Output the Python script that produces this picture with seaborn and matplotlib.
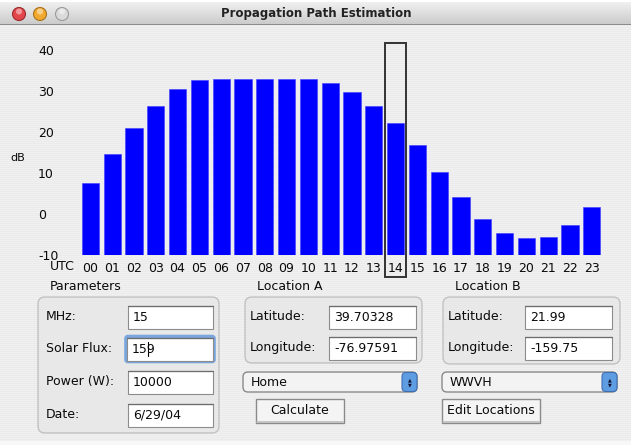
import numpy as np
import pandas as pd
import seaborn as sns
import matplotlib
matplotlib.use("Agg")
import matplotlib.pyplot as plt
from matplotlib.patches import Rectangle, FancyBboxPatch, Circle

# data
hours = ["00", "01", "02", "03", "04", "05", "06", "07", "08", "09", "10", "11",
         "12", "13", "14", "15", "16", "17", "18", "19", "20", "21", "22", "23"]
db = [7.7, 14.6, 21.0, 26.5, 30.5, 32.8, 33.0, 33.0, 33.0, 33.0, 33.0, 32.0,
      29.8, 26.5, 22.3, 16.9, 10.2, 4.3, -1.1, -4.5, -5.9, -5.5, -2.7, 1.8]
yticks = [-10, 0, 10, 20, 30, 40]
selected = "14"
floor = -10

params = [("MHz:", "15"), ("Solar Flux:", "159"), ("Power (W):", "10000"), ("Date:", "6/29/04")]
loc_a = [("Latitude:", "39.70328"), ("Longitude:", "-76.97591")]
loc_b = [("Latitude:", "21.99"), ("Longitude:", "-159.75")]

W, H = 631, 445
sns.set_style("white")
plt.rcParams["font.family"] = ["DejaVu Sans"]
fig = plt.figure(figsize=(W / 100, H / 100), dpi=100)

# aqua pinstripe background + title bar gradient
bg = np.empty((H, W, 3))
bg[:] = 0.925
bg[::2] = 0.945
grad = np.linspace(0.94, 0.80, 22)
bg[2:24] = grad[:, None, None]
bg[:2] = 1.0
bg[24] = 0.55
bg[-4:] = 0.97
fig.figimage(bg, 0, 0, origin="upper", zorder=0)

# ui layer in pixel coordinates
ui = fig.add_axes([0, 0, 1, 1], zorder=1)
ui.set_xlim(0, W)
ui.set_ylim(H, 0)
ui.axis("off")
ui.patch.set_alpha(0)

for cx, fc, ec in [(19, "#e2474b", "#9c2a2c"), (40, "#f0aa30", "#a8721a"), (62, "#dadada", "#9a9a9a")]:
    ui.add_patch(Circle((cx, 14), 6.5, facecolor=fc, edgecolor=ec, lw=0.8))
    ui.add_patch(Circle((cx, 11.5), 3, facecolor="white", alpha=0.45, lw=0))
ui.text(316, 13.5, "Propagation Path Estimation", ha="center", va="center",
        fontsize=8.5, fontweight="bold", color="#222222")

FS = 9
INK = "#0a0a0a"


def group(x0, y0, x1, y1, title):
    ui.add_patch(FancyBboxPatch((x0, y0), x1 - x0, y1 - y0, boxstyle="round,pad=0,rounding_size=7",
                                facecolor="#e4e4e4", edgecolor="#a0a0a0", lw=1, alpha=0.55))
    ui.text(x0 + 12, y0 - 10, title, fontsize=FS, va="center", color=INK)


def field(x0, y0, x1, y1, text, focus=False):
    if focus:
        ui.add_patch(FancyBboxPatch((x0 - 1, y0 - 1), x1 - x0 + 2, y1 - y0 + 2,
                                    boxstyle="round,pad=0,rounding_size=2",
                                    facecolor="none", edgecolor="#7aa6dc", lw=2.6))
    ui.add_patch(Rectangle((x0, y0), x1 - x0, y1 - y0, facecolor="white", edgecolor="#8c8c8c", lw=0.8))
    ui.plot([x0, x1], [y0 + 0.8, y0 + 0.8], color="#6c6c6c", lw=0.9)
    ui.text(x0 + 5, (y0 + y1) / 2 + 0.5, text, fontsize=FS, va="center", color=INK)


def popup(x0, y0, x1, y1, text):
    ui.add_patch(FancyBboxPatch((x0, y0), x1 - x0, y1 - y0, boxstyle="round,pad=0,rounding_size=5",
                                facecolor="#f3f3f3", edgecolor="#8a8a8a", lw=1))
    ui.add_patch(FancyBboxPatch((x1 - 15, y0 + 0.5), 15, y1 - y0 - 1, boxstyle="round,pad=0,rounding_size=4",
                                facecolor="#5f9de2", edgecolor="#3f6fb0", lw=0.8))
    ui.text(x1 - 7.5, (y0 + y1) / 2 - 2.5, "\u25b2", fontsize=3.5, ha="center", va="center", color="#111133")
    ui.text(x1 - 7.5, (y0 + y1) / 2 + 2.5, "\u25bc", fontsize=3.5, ha="center", va="center", color="#111133")
    ui.text(x0 + 8, (y0 + y1) / 2 + 0.5, text, fontsize=FS, va="center", color=INK)


def button(x0, y0, x1, y1, text):
    ui.add_patch(Rectangle((x0, y0), x1 - x0, y1 - y0, facecolor="#f4f4f4", edgecolor="#8a8a8a", lw=1))
    ui.plot([x0 + 1, x1 - 1], [y1 - 1.5, y1 - 1.5], color="#bdbdbd", lw=1.2)
    ui.text((x0 + x1) / 2, (y0 + y1) / 2, text, fontsize=FS, ha="center", va="center", color=INK)


# Parameters
group(38, 297, 219, 433, "Parameters")
for i, (lab, val) in enumerate(params):
    yc = [317, 349, 382, 415][i]
    ui.text(46, yc, lab, fontsize=FS, va="center", color=INK)
    if i == 1:
        field(127, yc - 11.5, 213, yc + 11.5, val, focus=True)
        ui.plot([147.5, 147.5], [yc - 7, yc + 7], color="black", lw=0.8)
    else:
        field(128, yc - 11.5, 213, yc + 11.5, val)

# Location A
group(245, 297, 422, 363, "Location A")
for (lab, val), yc in zip(loc_a, [317, 348]):
    ui.text(250, yc, lab, fontsize=FS, va="center", color=INK)
    field(329, yc - 11.5, 416, yc + 11.5, val)
popup(243, 372, 417, 392, "Home")
button(256, 399, 344, 423, "Calculate")

# Location B
group(443, 297, 620, 364, "Location B")
for (lab, val), yc in zip(loc_b, [317, 348]):
    ui.text(448, yc, lab, fontsize=FS, va="center", color=INK)
    field(525, yc - 11.5, 612, yc + 11.5, val)
popup(442, 372, 617, 392, "WWVH")
button(442, 399, 540, 423, "Edit Locations")

# bar chart
df = pd.DataFrame({"hour": hours, "db": db})
ax = fig.add_axes([79.45 / W, (H - 255.3) / H, 523.2 / W, 213.2 / H], zorder=2)
ax.patch.set_alpha(0)
sns.barplot(data=df, x="hour", y="db", color="#0000ff", saturation=1, width=0.79, ax=ax)
for p in ax.patches:
    p.set_y(floor)
    p.set_height(p.get_height() - floor)
    p.set_edgecolor("#3c3cff")
    p.set_linewidth(0.4)
ax.set_xlim(-0.5, 23.5)
ax.set_ylim(-10, 42)
ax.set_xlabel("")
ax.set_ylabel("")
sns.despine(ax=ax, left=True, bottom=True)
ax.set_yticks(yticks)
ax.set_yticklabels([str(t) for t in yticks], fontsize=FS)
for lab in ax.get_yticklabels():
    lab.set_horizontalalignment("left")
ax.tick_params(axis="y", length=0, pad=29.8, labelcolor=INK)
ax.tick_params(axis="x", length=0, pad=5, labelsize=FS, labelcolor=INK)

sel = hours.index(selected)
ax.add_patch(Rectangle((sel - 0.48, -15.2), 0.96, 57.1, fill=False, edgecolor="#333333",
                       lw=1.4, clip_on=False, zorder=5))
fig.text(50 / W, 1 - 267 / H, "UTC", fontsize=FS, va="center", color=INK)
fig.text(10 / W, 1 - 158 / H, "dB", fontsize=8, va="center", color=INK)

fig.savefig("out.png", dpi=100)
